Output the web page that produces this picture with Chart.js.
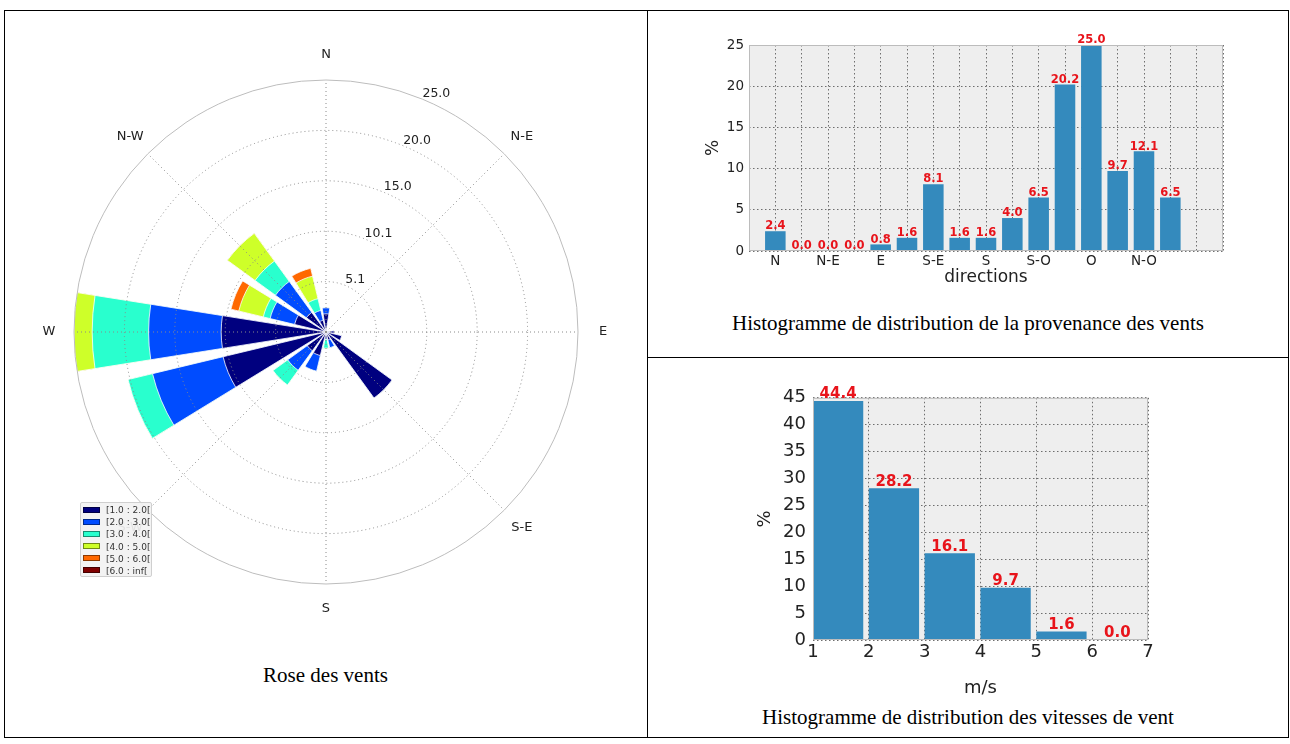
<!DOCTYPE html>
<html>
<head>
<meta charset="utf-8">
<title>Rose des vents</title>
<script src="https://cdn.jsdelivr.net/npm/chart.js@4.4.0/dist/chart.umd.min.js"></script>
<style>
  html, body { margin: 0; padding: 0; background: #fff; }
  body { width: 1290px; height: 744px; position: relative; overflow: hidden; font-family: "DejaVu Sans", sans-serif; }
  .rule { position: absolute; background: #000; }
  .caption { position: absolute; font-family: "Liberation Serif", "Times New Roman", serif; font-size: 21px; color: #000; text-align: center; line-height: 24px; }
  canvas { position: absolute; }
  #roseLegend { position: absolute; left: 80px; top: 502px; width: 72px; height: 75px; box-sizing: border-box;
    background: rgba(242,242,242,0.92); border: 1px solid #cfcfcf; border-radius: 2px; padding-top: 1px; }
  #roseLegend .item { height: 12.2px; line-height: 12.2px; font-size: 9px; color: #333; white-space: nowrap; }
  #roseLegend .sw { display: inline-block; width: 17px; height: 6px; margin: 0 6px 0 2px; vertical-align: middle;
    border: 0.5px solid rgba(0,0,0,0.45); box-sizing: border-box; position: relative; top: -1px; }
</style>
</head>
<body>

<!-- tableau : bordures -->
<div class="rule" style="left:4px; top:10px; width:1285px; height:1px;"></div>
<div class="rule" style="left:4px; top:737px; width:1285px; height:1px;"></div>
<div class="rule" style="left:4px; top:10px; width:1px; height:728px;"></div>
<div class="rule" style="left:1288px; top:10px; width:1px; height:728px;"></div>
<div class="rule" style="left:647px; top:10px; width:1px; height:728px;"></div>
<div class="rule" style="left:647px; top:357px; width:642px; height:1px;"></div>

<canvas id="rose" width="600" height="600" style="left:26px; top:32px;"></canvas>
<div id="roseLegend"></div>
<div class="caption" style="left:4px; width:643px; top:663px;">Rose des vents</div>

<canvas id="histDir" width="550" height="270" style="left:690px; top:20px;"></canvas>
<div class="caption" style="left:647px; width:642px; top:311px;">Histogramme de distribution de la provenance des vents</div>

<canvas id="histSpeed" width="420" height="320" style="left:740px; top:380px;"></canvas>
<div class="caption" style="left:647px; width:642px; top:705px;">Histogramme de distribution des vitesses de vent</div>

<script>
// --- rose des vents : % par secteur (16 directions) et par classe de vitesse ---
const directions = ['N', 'NNE', 'NE', 'ENE', 'E', 'ESE', 'SE', 'SSE', 'S', 'SSW', 'SW', 'WSW', 'W', 'WNW', 'NW', 'NNW'];
const roseLabels = ['N', 'N-E', 'E', 'S-E', 'S', 'S-W', 'W', 'N-W'];
const speedClasses = ['[1.0 : 2.0[', '[2.0 : 3.0[', '[3.0 : 4.0[', '[4.0 : 5.0[', '[5.0 : 6.0[', '[6.0 : inf['];
const freq1to2 = [1.8, 0, 0, 0, 0.8, 1.6, 8.1, 0.8, 0.7, 2.4, 2.3, 10.5, 10.4, 3.2, 2.4, 1.2];
const freq2to3 = [0.6, 0, 0, 0, 0, 0, 0, 0.8, 0, 1.6, 2.4, 7.2, 7.2, 2.5, 3.8, 1.0];
const freq3to4 = [0, 0, 0, 0, 0, 0, 0, 0, 0.9, 0, 1.8, 2.5, 5.6, 0.7, 2.5, 1.2];
const freq4to5 = [0, 0, 0, 0, 0, 0, 0, 0, 0, 0, 0, 0, 1.8, 2.5, 3.4, 2.3];
const freq5to6 = [0, 0, 0, 0, 0, 0, 0, 0, 0, 0, 0, 0, 0, 0.8, 0, 0.8];
const freq6up = [0, 0, 0, 0, 0, 0, 0, 0, 0, 0, 0, 0, 0, 0, 0, 0];
const ringTicks = [5, 10, 15, 20, 25];
const ringLabels = ['5.1', '10.1', '15.0', '20.0', '25.0'];

// --- histogramme des directions ---
const dirTickLabels = ['N', 'N-E', 'E', 'S-E', 'S', 'S-O', 'O', 'N-O'];
const dirPercent = [2.4, 0.0, 0.0, 0.0, 0.8, 1.6, 8.1, 1.6, 1.6, 4.0, 6.5, 20.2, 25.0, 9.7, 12.1, 6.5];

// --- histogramme des vitesses ---
const speedBins = [1, 2, 3, 4, 5, 6];
const speedPercent = [44.4, 28.2, 16.1, 9.7, 1.6, 0.0];

const jetColors = ['#00007f', '#004cff', '#29ffce', '#ceff29', '#ff6800', '#7f0000'];
const barBlue = '#348abd';
const labelRed = '#e8141b';

// légende de la rose (comme matplotlib, en bas à gauche)
const legendBox = document.getElementById('roseLegend');
speedClasses.forEach((name, k) => {
    const row = document.createElement('div');
    row.className = 'item';
    row.innerHTML = '<span class="sw" style="background:' + jetColors[k] + '"></span>' + name;
    legendBox.appendChild(row);
});

// empilement : chaque classe est dessinée depuis le centre jusqu'au cumul
const classFreqs = [freq1to2, freq2to3, freq3to4, freq4to5, freq5to6, freq6up];
const cumul = classFreqs.map((f, k) =>
    directions.map((d, i) => classFreqs.slice(0, k + 1).reduce((s, arr) => s + arr[i], 0)));
// un secteur de 18° puis 4.5° de vide
const withGaps = arr => arr.flatMap(v => [v, 0]);

const roseDecor = {
    id: 'roseDecor',
    afterDraw(chart) {
        const r = chart.scales.r;
        const ctx = chart.ctx;
        const xc = r.xCenter, yc = r.yCenter, R = r.drawingArea;
        ctx.save();
        // rayons pointillés tous les 45°
        ctx.strokeStyle = '#8a8a8a';
        ctx.lineWidth = 1;
        ctx.setLineDash([1, 3]);
        roseLabels.forEach((lab, i) => {
            const a = i * Math.PI / 4;
            ctx.beginPath();
            ctx.moveTo(xc, yc);
            ctx.lineTo(xc + Math.sin(a) * R, yc - Math.cos(a) * R);
            ctx.stroke();
        });
        ctx.setLineDash([]);
        ctx.fillStyle = '#222';
        ctx.font = '13px "DejaVu Sans"';
        ctx.textAlign = 'center';
        ctx.textBaseline = 'middle';
        roseLabels.forEach((lab, i) => {
            const a = i * Math.PI / 4;
            ctx.fillText(lab, xc + Math.sin(a) * (R + 25), yc - Math.cos(a) * (R + 25));
        });
        // étiquettes des cercles, le long de 22.5°
        ctx.font = '12.5px "DejaVu Sans"';
        ctx.textAlign = 'left';
        ctx.textBaseline = 'bottom';
        const a = Math.PI / 8;
        ringTicks.forEach((v, i) => {
            const d = r.getDistanceFromCenterForValue(v);
            ctx.fillText(ringLabels[i], xc + Math.sin(a) * d, yc - Math.cos(a) * d + 1);
        });
        ctx.restore();
    }
};

new Chart(document.getElementById('rose'), {
    type: 'polarArea',
    data: {
        labels: directions,
        datasets: cumul.map((vals, k) => ({
            label: speedClasses[k],
            data: withGaps(vals),
            backgroundColor: c => c.dataIndex % 2 ? 'rgba(0,0,0,0)' : jetColors[k],
            borderColor: '#ffffff',
            borderWidth: c => c.dataIndex % 2 ? 0 : 0.8,
            angle: c => c.dataIndex % 2 ? 4.5 : 18
        }))
    },
    options: {
        responsive: false,
        animation: false,
        layout: { padding: 48 },
        plugins: { legend: { display: false }, tooltip: { enabled: false } },
        scales: {
            r: {
                min: 0,
                max: ringTicks[ringTicks.length - 1],
                startAngle: -9,
                ticks: { display: false, stepSize: 5 },
                grid: {
                    z: 1,
                    circular: true,
                    color: c => c.tick && c.tick.value === 25 ? '#bdbdbd' : '#8a8a8a',
                    lineWidth: 1
                },
                border: { dash: c => c.tick && c.tick.value === 25 ? [] : [1, 3] },
                angleLines: { display: false },
                pointLabels: { display: false }
            }
        }
    },
    plugins: [roseDecor]
});

// fond gris, cadre et valeurs en rouge au-dessus des barres
function histDecor(labelFont) {
    return {
        id: 'histDecor',
        beforeDraw(chart) {
            const a = chart.chartArea;
            chart.ctx.save();
            chart.ctx.fillStyle = '#eeeeee';
            chart.ctx.fillRect(a.left, a.top, a.right - a.left, a.bottom - a.top);
            chart.ctx.restore();
        },
        afterDraw(chart) {
            const a = chart.chartArea;
            const ctx = chart.ctx;
            ctx.save();
            ctx.strokeStyle = '#bcbcbc';
            ctx.lineWidth = 1;
            ctx.strokeRect(a.left + 0.5, a.top + 0.5, a.right - a.left - 1, a.bottom - a.top - 1);
            ctx.fillStyle = labelRed;
            ctx.font = labelFont;
            ctx.textAlign = 'center';
            ctx.textBaseline = 'bottom';
            const meta = chart.getDatasetMeta(0);
            meta.data.forEach((bar, i) => {
                ctx.fillText(chart.data.datasets[0].data[i].y.toFixed(1), bar.x, bar.y + 1);
            });
            ctx.restore();
        }
    };
}

const gridStyle = { color: '#6e6e6e', lineWidth: 1, drawTicks: false, offset: false };
const dotted = { display: false, dash: [1.5, 2.5] };

new Chart(document.getElementById('histDir'), {
    type: 'bar',
    data: {
        datasets: [{
            data: dirPercent.map((v, i) => ({ x: i, y: v })),
            backgroundColor: barBlue,
            barPercentage: 0.78,
            categoryPercentage: 1
        }]
    },
    options: {
        responsive: false,
        animation: false,
        layout: { padding: { left: 0, top: 25, right: 17, bottom: 0 } },
        plugins: { legend: { display: false }, tooltip: { enabled: false } },
        scales: {
            x: {
                type: 'linear',
                min: -1,
                max: 17,
                offset: false,
                grid: gridStyle,
                border: dotted,
                ticks: {
                    stepSize: 1,
                    autoSkip: false,
                    maxRotation: 0,
                    padding: 2,
                    color: '#222',
                    font: { family: 'DejaVu Sans', size: 13.5 },
                    callback: v => (v >= 0 && v % 2 === 0 && v / 2 < dirTickLabels.length) ? dirTickLabels[v / 2] : ''
                },
                title: { display: true, text: 'directions', color: '#222', font: { family: 'DejaVu Sans', size: 17 }, padding: { top: 0, bottom: 1.8 } },
                afterFit: s => { s.height = 39; }
            },
            y: {
                min: 0,
                max: 25,
                grid: gridStyle,
                border: dotted,
                ticks: { stepSize: 5, padding: 5, color: '#222', font: { family: 'DejaVu Sans', size: 13.5 } },
                title: { display: true, text: '%', color: '#222', font: { family: 'DejaVu Sans', size: 17 }, padding: { top: 13.8, bottom: 0 } },
                afterFit: s => { s.width = 59; }
            }
        }
    },
    plugins: [histDecor('bold 11.5px "DejaVu Sans"')]
});

const binWidth = 0.9;
new Chart(document.getElementById('histSpeed'), {
    type: 'bar',
    data: {
        datasets: [{
            data: speedBins.map((b, i) => ({ x: b + binWidth / 2, y: speedPercent[i] })),
            backgroundColor: barBlue,
            barPercentage: binWidth,
            categoryPercentage: 1
        }]
    },
    options: {
        responsive: false,
        animation: false,
        layout: { padding: { left: 0, top: 17, right: 12, bottom: 0 } },
        plugins: { legend: { display: false }, tooltip: { enabled: false } },
        scales: {
            x: {
                type: 'linear',
                min: 1,
                max: 7,
                offset: false,
                grid: gridStyle,
                border: dotted,
                ticks: { stepSize: 1, maxRotation: 0, padding: 2, color: '#222', font: { family: 'DejaVu Sans', size: 18 } },
                title: { display: true, text: 'm/s', color: '#222', font: { family: 'DejaVu Sans', size: 18 }, padding: { top: 0, bottom: 1.2 } },
                afterFit: s => { s.height = 60; }
            },
            y: {
                min: 0,
                max: 45,
                grid: gridStyle,
                border: dotted,
                ticks: { stepSize: 5, padding: 7, color: '#222', font: { family: 'DejaVu Sans', size: 18 } },
                title: { display: true, text: '%', color: '#222', font: { family: 'DejaVu Sans', size: 18 }, padding: { top: 14.2, bottom: 0 } },
                afterFit: s => { s.width = 73; }
            }
        }
    },
    plugins: [histDecor('bold 15px "DejaVu Sans"')]
});
</script>
</body>
</html>
